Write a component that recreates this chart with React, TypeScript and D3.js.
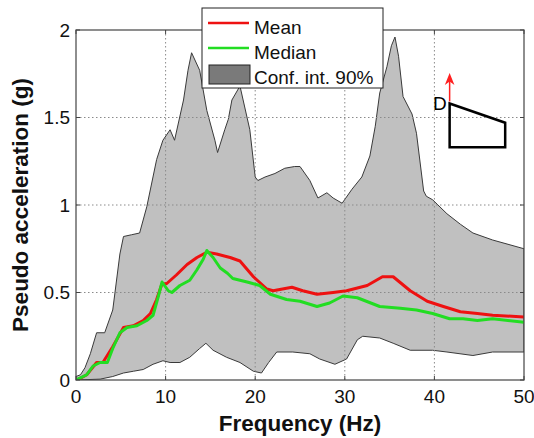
import React from "react";
import * as d3 from "d3";

const upperFreq = [0, 0.5, 1, 1.6, 2.3, 3.2, 4.1, 4.9, 5.3, 6.2, 7.1, 7.9, 9.0, 9.7, 10.5, 11.0, 12.0, 12.5, 12.9, 13.8, 14.6, 15.5, 15.8, 16.6, 17.0, 17.4, 18.3, 19.4, 20.0, 20.3, 21.1, 22.2, 23.3, 24.4, 25.0, 26.1, 27.0, 28.0, 28.7, 29.7, 30.8, 31.9, 32.8, 33.4, 33.9, 34.7, 35.2, 35.6, 36.0, 36.5, 37.5, 38.0, 38.8, 39.1, 39.8, 41.4, 42.9, 44.3, 46.5, 50];
const upperVal = [0.02, 0.03, 0.07, 0.15, 0.27, 0.27, 0.40, 0.72, 0.82, 0.83, 0.84, 0.99, 1.26, 1.37, 1.43, 1.37, 1.6, 1.77, 1.87, 1.77, 1.54, 1.37, 1.30, 1.43, 1.49, 1.6, 1.68, 1.43, 1.16, 1.14, 1.16, 1.18, 1.21, 1.22, 1.22, 1.14, 1.04, 1.07, 1.04, 1.01, 1.09, 1.16, 1.28, 1.45, 1.64, 1.79, 1.91, 1.96, 1.85, 1.62, 1.52, 1.41, 1.08, 1.05, 1.03, 0.95, 0.89, 0.84, 0.80, 0.75];

const lowerFreq = [0, 2.7, 4.1, 5.3, 6.4, 7.5, 8.6, 9.7, 10.5, 11.6, 12.7, 13.8, 14.5, 15.3, 16.8, 18.3, 19.8, 20.7, 21.5, 22.4, 24.2, 26.1, 27.2, 28.9, 30.2, 31.4, 32.0, 33.9, 35.4, 37.3, 39.8, 41.4, 44.3, 46.5, 50];
const lowerVal = [0.0, 0.005, 0.02, 0.04, 0.05, 0.06, 0.09, 0.11, 0.10, 0.10, 0.13, 0.18, 0.21, 0.17, 0.13, 0.10, 0.05, 0.04, 0.10, 0.16, 0.16, 0.15, 0.12, 0.09, 0.12, 0.23, 0.25, 0.24, 0.21, 0.17, 0.17, 0.16, 0.14, 0.16, 0.16];

const meanFreq = [0, 0.5, 1.2, 2.3, 3.0, 4.1, 5.3, 6.4, 7.5, 8.3, 9.0, 9.6, 10.1, 11.2, 12.4, 13.5, 14.6, 15.7, 17.2, 18.3, 19.8, 21.3, 22.0, 24.1, 25.3, 26.9, 28.7, 30.2, 32.5, 34.2, 35.4, 37.3, 39.2, 41.0, 42.9, 44.8, 46.5, 50];
const meanVal = [0, 0.01, 0.03, 0.10, 0.10, 0.19, 0.30, 0.31, 0.34, 0.38, 0.46, 0.55, 0.55, 0.60, 0.66, 0.70, 0.73, 0.72, 0.70, 0.68, 0.59, 0.52, 0.51, 0.53, 0.51, 0.49, 0.50, 0.51, 0.54, 0.59, 0.59, 0.51, 0.45, 0.42, 0.39, 0.38, 0.37, 0.36];

const medianFreq = [0, 1.2, 1.9, 2.7, 3.5, 4.1, 4.9, 5.7, 6.8, 7.9, 8.6, 9.2, 9.6, 10.3, 10.7, 11.6, 12.7, 13.5, 14.2, 14.6, 15.3, 16.1, 16.9, 17.5, 18.3, 19.1, 19.8, 20.5, 21.7, 23.5, 25.0, 26.9, 28.3, 29.8, 31.4, 33.9, 36.2, 38.0, 39.8, 41.7, 43.2, 44.8, 46.5, 50];
const medianVal = [0, 0.03, 0.08, 0.10, 0.10, 0.18, 0.27, 0.30, 0.31, 0.34, 0.37, 0.48, 0.56, 0.51, 0.50, 0.54, 0.57, 0.63, 0.69, 0.74, 0.70, 0.64, 0.61, 0.58, 0.57, 0.56, 0.55, 0.54, 0.49, 0.46, 0.45, 0.42, 0.44, 0.48, 0.47, 0.42, 0.41, 0.40, 0.38, 0.35, 0.35, 0.34, 0.35, 0.33];

const xTicks = [0, 10, 20, 30, 40, 50];
const yTicks = [0, 0.5, 1, 1.5, 2];
const yTickLabels = ["0", "0.5", "1", "1.5", "2"];
const legendLabels = ["Mean", "Median", "Conf. int. 90%"];

// inset sketch (in data units)
const insetFreq = [41.7, 47.9, 47.9, 41.7];
const insetVal = [1.58, 1.47, 1.33, 1.33];

const W = 534, H = 438;
const L = 76, T = 30, R = 524, B = 380;
const FONT = "'Liberation Sans', Arial, Helvetica, sans-serif";

export default function App() {
  const x = d3.scaleLinear().domain([0, 50]).range([L, R]);
  const y = d3.scaleLinear().domain([0, 2]).range([B, T]);
  const line = d3.line<[number, number]>().x(d => x(d[0])).y(d => y(d[1]));

  const upPts: [number, number][] = upperFreq.map((f, i) => [f, upperVal[i]]);
  const loPts: [number, number][] = lowerFreq.map((f, i) => [f, lowerVal[i]]);
  const bandPath = line(upPts.concat(loPts.slice().reverse())) + "Z";
  const meanPath = line(meanFreq.map((f, i) => [f, meanVal[i]] as [number, number]));
  const medPath = line(medianFreq.map((f, i) => [f, medianVal[i]] as [number, number]));
  const insetPath = line(insetFreq.map((f, i) => [f, insetVal[i]] as [number, number])) + "Z";

  const gridColor = "#8a8a8a";
  return (
    <svg width={W} height={H} style={{ position: "absolute", left: 0, top: 0, background: "#fff" }} fontFamily={FONT}>
      <defs>
        <clipPath id="plot">
          <rect x={L} y={T} width={R - L} height={B - T} />
        </clipPath>
        <marker id="arrowhead" viewBox="0 0 10 10" refX="5" refY="5" markerWidth="8" markerHeight="8" orient="auto">
          <path d="M0,1 L10,5 L0,9 L3,5 Z" fill="#ff2020" />
        </marker>
      </defs>
      <rect x={L} y={T} width={R - L} height={B - T} fill="#fff" />
      <g clipPath="url(#plot)">
        <path d={bandPath} fill="#c0c0c0" stroke="#3a3a3a" strokeWidth={1} />
      </g>
      {/* grid */}
      {xTicks.slice(1, -1).map(t => (
        <line key={"gx" + t} x1={x(t)} x2={x(t)} y1={T} y2={B} stroke={gridColor} strokeWidth={1} strokeDasharray="1.5,2.5" />
      ))}
      {yTicks.slice(1, -1).map(t => (
        <line key={"gy" + t} x1={L} x2={R} y1={y(t)} y2={y(t)} stroke={gridColor} strokeWidth={1} strokeDasharray="1.5,2.5" />
      ))}
      <g clipPath="url(#plot)">
        <path d={meanPath || ""} fill="none" stroke="#ee1111" strokeWidth={3} strokeLinejoin="round" />
        <path d={medPath || ""} fill="none" stroke="#22dd22" strokeWidth={3} strokeLinejoin="round" />
      </g>
      {/* frame */}
      <rect x={L} y={T} width={R - L} height={B - T} fill="none" stroke="#444" strokeWidth={1.2} />
      {/* ticks */}
      {xTicks.map(t => (
        <g key={"xt" + t}>
          <line x1={x(t)} x2={x(t)} y1={B} y2={B - 4} stroke="#444" />
          <line x1={x(t)} x2={x(t)} y1={T} y2={T + 4} stroke="#444" />
          <text x={x(t)} y={B + 23} textAnchor="middle" fontSize={19} fill="#111">{t}</text>
        </g>
      ))}
      {yTicks.map((t, i) => (
        <g key={"yt" + t}>
          <line x1={L} x2={L + 4} y1={y(t)} y2={y(t)} stroke="#444" />
          <line x1={R} x2={R - 4} y1={y(t)} y2={y(t)} stroke="#444" />
          <text x={L - 6} y={y(t)} dy="0.35em" textAnchor="end" fontSize={19} fill="#111">{yTickLabels[i]}</text>
        </g>
      ))}
      <text x={(L + R) / 2} y={431} textAnchor="middle" fontSize={22.5} fontWeight="bold" fill="#111">Frequency (Hz)</text>
      <text transform={`translate(28,${(T + B) / 2}) rotate(-90)`} textAnchor="middle" fontSize={22.5} fontWeight="bold" fill="#111">Pseudo acceleration (g)</text>

      {/* inset sketch */}
      <line x1={x(insetFreq[0])} x2={x(insetFreq[0])} y1={y(insetVal[0]) - 2} y2={y(1.72)} stroke="#ff2020" strokeWidth={1.5} markerEnd="url(#arrowhead)" />
      <path d={insetPath} fill="none" stroke="#000" strokeWidth={2.5} strokeLinejoin="miter" />
      <text x={x(insetFreq[0]) - 3} y={y(insetVal[0])} dy="0.35em" textAnchor="end" fontSize={19} fill="#000">D</text>

      {/* legend */}
      <g>
        <rect x={202} y={8} width={181} height={80} fill="#fff" stroke="#222" strokeWidth={1} />
        <line x1={208} x2={249} y1={23} y2={23} stroke="#ee1111" strokeWidth={2.5} />
        <line x1={208} x2={249} y1={48} y2={48} stroke="#22dd22" strokeWidth={2.5} />
        <rect x={209} y={65} width={41} height={19} fill="#7a7a7a" stroke="#222" strokeWidth={1} />
        {legendLabels.map((lab, i) => (
          <text key={lab} x={254} y={27 + i * 25} dy="0.35em" fontSize={19} fill="#111">{lab}</text>
        ))}
      </g>
    </svg>
  );
}
